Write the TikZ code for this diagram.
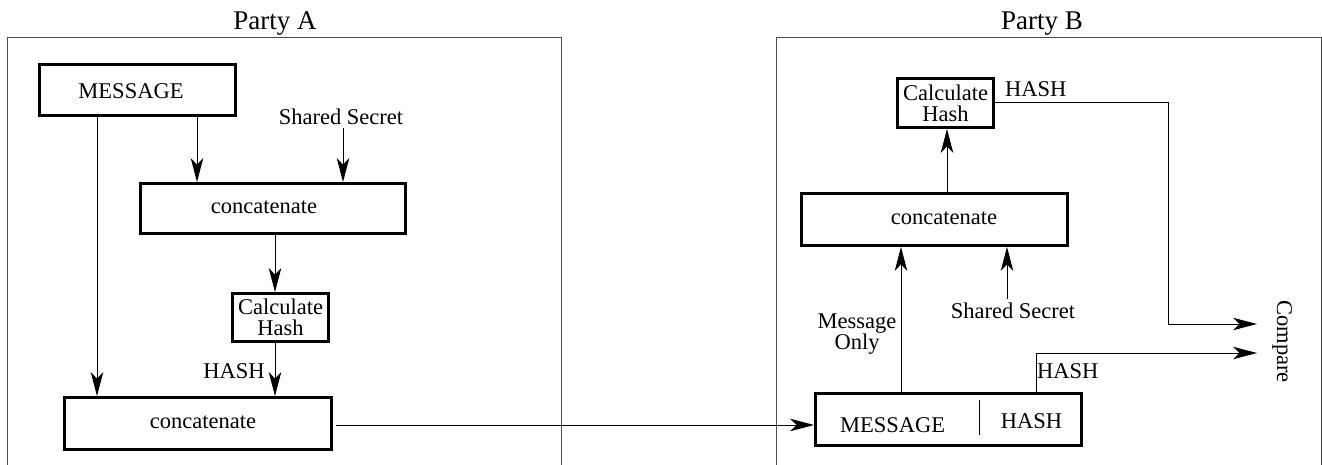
\documentclass[tikz,border=0pt]{standalone}
\usepackage{fontspec}
\setmainfont{Liberation Serif}
\usetikzlibrary{arrows.meta}

\begin{document}
\begin{tikzpicture}[x=1pt,y=-1pt,
  box/.style={draw, line width=2.8pt, inner sep=0pt, align=center,
              font=\fontsize{22.5}{21}\selectfont},
  txt/.style={inner sep=0pt, anchor=base, font=\fontsize{22.5}{21}\selectfont},
  title/.style={inner sep=0pt, anchor=base, font=\fontsize{27}{30}\selectfont},
  frame/.style={draw=black!70, line width=1pt},
  wire/.style={line width=1pt},
  arr/.style={wire, -{Stealth[length=24pt,width=12.5pt,inset=6.5pt]}}]

\useasboundingbox (0,0) rectangle (1322,465);

% the two parties, open at the bottom
\draw[frame] (7,465) -- (7,38) -- (561,38) -- (561,465);
\draw[frame] (776,465) -- (776,38) -- (1321,38) -- (1321,465);
\node[title] (titleA) at (275,30) {Party A};
\node[title] (titleB) at (1042,30) {Party B};

% ---------------- Party A ----------------
\node[box, minimum width=196pt, minimum height=51pt] (msgA) at (137.5,90) {};
\node[txt] (msgA-l) at (131,99) {MESSAGE};
\node[txt] (ssA) at (341,125) {Shared Secret};

\node[box, minimum width=265pt, minimum height=50pt] (catA1) at (273,208.5) {};
\node[txt] (catA1-l) at (264,214) {concatenate};

\node[box, minimum width=96pt, minimum height=48pt] (hashA) at (280.5,317.5) {Calculate\\Hash};
\node[txt] (hashA-l) at (234,378) {HASH};

\node[box, minimum width=267pt, minimum height=52pt] (catA2) at (198,423.5) {};
\node[txt] (catA2-l) at (203,428) {concatenate};

\coordinate (xA1) at (197,0);
\coordinate (xA2) at (343,0);
\coordinate (xA3) at (275,0);
\coordinate (xA4) at (97,0);
\coordinate (yT) at (0,425);

\draw[arr] (msgA.south -| xA1) -- (catA1.north -| xA1);
\draw[arr, shorten <=3pt] (ssA.south -| xA2) -- (catA1.north -| xA2);
\draw[arr] (catA1.south -| xA3) -- (hashA.north -| xA3);
\draw[arr] (hashA.south -| xA3) -- (catA2.north -| xA3);
\draw[arr] (msgA.south -| xA4) -- (catA2.north -| xA4);

% ---------------- Party B ----------------
\node[box, minimum width=96pt, minimum height=49pt] (hashB) at (945.5,103) {Calculate\\Hash};
\node[txt, anchor=base west] (hashB-l) at (1005,97) {HASH};

\node[box, minimum width=266pt, minimum height=52pt] (catB) at (934.5,219.5) {};
\node[txt] (catB-l) at (944,224) {concatenate};

\node[txt] (ssB) at (1013,318) {Shared Secret};
\node[inner sep=0pt, anchor=north, align=center,
      font=\fontsize{22.5}{18}\selectfont] (only) at (857,313.5) {Message\\Only};

\node[box, minimum width=266pt, minimum height=52pt] (mhB) at (948.5,419.5) {};
\node[txt] (mhB-m) at (892.5,432) {MESSAGE};
\node[txt] (mhB-h) at (1031.5,428) {HASH};
\draw[wire] (979,400) -- (979,435);
\node[txt, anchor=base west] (mhB-l) at (1037,378) {HASH};

\node[txt, rotate=-90] (cmp) at (1277,341.5) {Compare};

\coordinate (xB1) at (901,0);
\coordinate (xB2) at (1007,0);
\coordinate (xB3) at (947,0);
\coordinate (xB4) at (1036,0);
\coordinate (bend) at (1168,324);
\coordinate (in1) at (1257,324);
\coordinate (in2) at (1257,353);

\draw[arr, shorten <=3pt] (catA2.east |- yT) -- (mhB.west |- yT);
\draw[arr] (mhB.north -| xB1) -- (catB.south -| xB1);
\draw[arr, shorten <=3pt] (ssB.north -| xB2) -- (catB.south -| xB2);
\draw[arr] (catB.north -| xB3) -- (hashB.south -| xB3);
\draw[arr] (hashB.east) -| (bend) -- (in1);
\draw[arr] (mhB.north -| xB4) |- (in2);

\end{tikzpicture}
\end{document}
